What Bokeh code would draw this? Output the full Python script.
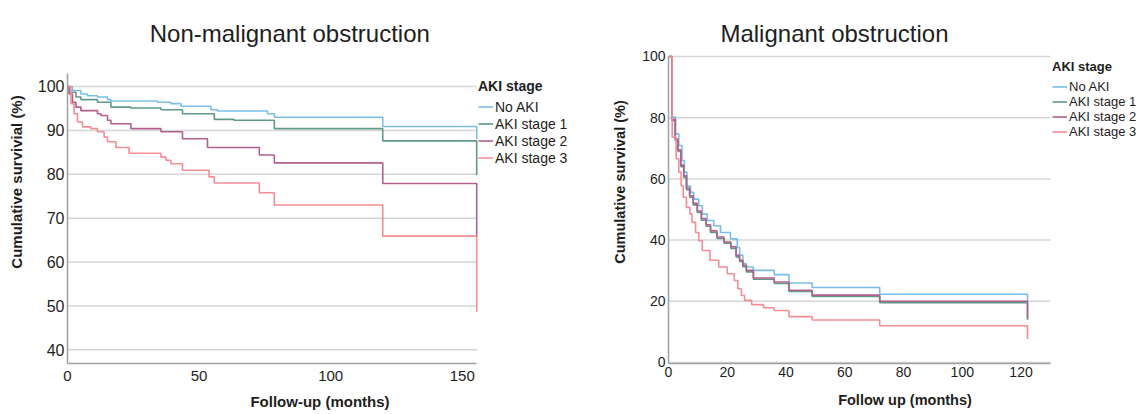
from bokeh.plotting import figure
from bokeh.layouts import row
from bokeh.models import Legend, LegendItem, FixedTicker, Range1d, Label
from bokeh.embed import file_html
from bokeh.resources import INLINE

# ---------------- data ----------------
groups = ["No AKI", "AKI stage 1", "AKI stage 2", "AKI stage 3"]
colors = ["#79bde9", "#5f9a88", "#b2608d", "#f58d95"]

# Non-malignant obstruction (months, cumulative survival %)
nm_t_no = [0, 1.9, 5.1, 7.6, 11.4, 15.2, 16.5, 34.2, 39.3, 43.1, 54.5, 57.0, 76.0, 78.6, 119.8, 155.5]
nm_s_no = [100, 99.1, 98.3, 97.9, 97.6, 97.0, 96.7, 96.4, 96.1, 95.5, 94.7, 94.4, 93.8, 93.0, 90.9, 88.0]
nm_t_s1 = [0, 0.7, 3.2, 5.1, 11.4, 16.5, 24.1, 35.5, 43.7, 55.8, 63.3, 78.6, 119.8, 155.5]
nm_s_s1 = [100, 98.7, 97.6, 97.0, 96.4, 95.3, 95.1, 94.7, 93.8, 92.5, 92.3, 90.4, 87.6, 79.8]
nm_t_s2 = [0, 0.6, 1.9, 3.2, 5.1, 11.4, 12.7, 15.2, 16.5, 24.1, 35.5, 43.7, 53.2, 72.9, 78.6, 119.8, 155.5]
nm_s_s2 = [100, 98.3, 96.4, 95.3, 94.5, 93.8, 93.4, 92.3, 91.5, 90.4, 89.7, 88.1, 86.1, 84.4, 82.6, 77.9, 65.8]
nm_t_s3 = [0, 1.3, 2.5, 3.8, 5.7, 8.9, 11.4, 13.9, 15.2, 18.4, 23.4, 35.5, 37.4, 39.3, 43.7, 53.8, 55.8, 72.9, 78.6, 119.8, 155.5]
nm_s_s3 = [100, 96.1, 93.8, 91.9, 90.8, 90.4, 89.7, 88.5, 87.4, 86.1, 84.8, 83.9, 83.2, 82.4, 80.9, 79.4, 78.0, 75.8, 73.0, 65.9, 48.7]

# Malignant obstruction
m_t_no = [0, 1.25, 2.4, 3.5, 4.6, 5.4, 6.3, 7.5, 8.6, 10.3, 11.5, 13.2, 15.4, 17.7, 21.1, 23.4, 24.2, 25.3, 26.5, 28.9, 36.0, 41.0, 48.9, 71.9, 122.2]
m_s_no = [100, 80.2, 74.7, 70.9, 66.0, 62.2, 57.7, 55.6, 53.4, 51.2, 48.5, 46.4, 44.7, 42.5, 40.4, 37.6, 35.1, 32.3, 31.2, 30.1, 28.7, 26.0, 24.5, 22.3, 19.8]
m_t_s12 = [0, 1.2, 2.3, 3.2, 4.2, 5.2, 6.1, 7.2, 8.4, 9.8, 11.2, 12.8, 14.3, 16.5, 18.9, 21.2, 23.0, 24.2, 25.3, 26.5, 28.9, 36.0, 41.0, 48.9, 71.9, 122.2]
m_s_s1 = [100, 79.0, 72.5, 69.0, 64.0, 60.5, 56.5, 54.0, 51.5, 49.0, 46.5, 44.5, 42.5, 40.5, 39.0, 37.3, 34.5, 33.0, 31.3, 29.6, 27.2, 25.8, 23.2, 21.6, 19.5, 14.0]
m_s_s2 = [100, 79.5, 73.0, 69.5, 64.5, 61.0, 57.0, 54.5, 52.0, 49.5, 47.0, 45.0, 43.0, 41.0, 39.4, 37.8, 35.0, 33.4, 31.8, 30.1, 27.6, 26.3, 23.6, 22.0, 20.0, 14.3]
m_t_s3 = [0, 1.25, 2.6, 3.5, 4.3, 5.0, 6.1, 7.3, 8.0, 9.2, 10.3, 11.5, 14.1, 17.1, 20.0, 22.4, 23.6, 24.8, 25.9, 28.3, 32.4, 36.0, 41.0, 48.9, 71.9, 122.2]
m_s_s3 = [100, 73.6, 66.6, 62.2, 57.7, 54.0, 50.7, 48.5, 45.8, 42.5, 39.8, 36.6, 33.4, 31.2, 29.0, 26.8, 24.1, 21.9, 20.3, 18.9, 17.9, 17.0, 15.0, 13.9, 12.0, 7.7]

nm_x_ticks = [0, 50, 100, 150]
nm_y_ticks = [40, 50, 60, 70, 80, 90, 100]
m_x_ticks = [0, 20, 40, 60, 80, 100, 120]
m_y_ticks = [0, 20, 40, 60, 80, 100]

FONT = "Liberation Sans"
TXT = "#1e1e1e"


def make_plot(title, title_pos, series, w, bl, xr, yr, x_axis_end, y_axis_bounds,
              xticks, yticks, xlabel, ylabel, xtick_fs, ytick_fs, lab_fs,
              xtick_standoff, xlab_standoff, ylab_standoff,
              leg_fs, leg_h, leg_title_standoff, leg_loc):
    # frame spans from the top of the figure down to the x axis (y = 363 px)
    p = figure(width=w, height=414, x_range=Range1d(*xr), y_range=Range1d(*yr),
               title=None, output_backend="svg", toolbar_location=None,
               min_border_left=bl, min_border_right=0, min_border_top=0, min_border_bottom=51)
    p.outline_line_color = None
    p.background_fill_color = "white"
    p.border_fill_color = "white"

    p.add_layout(Label(x=title_pos[0], y=title_pos[1], x_units="screen", y_units="screen",
                       text=title, text_align="center", text_baseline="alphabetic",
                       text_font=FONT, text_font_size="24px", text_color=TXT))

    # horizontal grid lines, limited to the axis extent
    p.xgrid.visible = False
    p.ygrid.visible = False
    p.segment(x0=[0] * len(yticks), x1=[x_axis_end] * len(yticks), y0=yticks, y1=yticks,
              line_color="#d6d6d6", line_width=1.5)

    for ax, ticks, lab, fs in ((p.xaxis, xticks, xlabel, xtick_fs), (p.yaxis, yticks, ylabel, ytick_fs)):
        ax.ticker = FixedTicker(ticks=ticks)
        ax.axis_line_color = "#a0a0a0"
        ax.axis_line_width = 1.5
        ax.major_tick_line_color = None
        ax.minor_tick_line_color = None
        ax.major_tick_out = 0
        ax.major_tick_in = 0
        ax.minor_tick_out = 0
        ax.major_label_text_font = FONT
        ax.major_label_text_font_size = fs
        ax.major_label_text_color = TXT
        ax.axis_label = lab
        ax.axis_label_text_font = FONT
        ax.axis_label_text_font_size = lab_fs
        ax.axis_label_text_font_style = "bold"
        ax.axis_label_text_color = TXT
    p.xaxis.bounds = (0, x_axis_end)
    p.yaxis.bounds = y_axis_bounds
    p.xaxis.major_label_standoff = xtick_standoff
    p.xaxis.axis_label_standoff = xlab_standoff
    p.yaxis.major_label_standoff = 3
    p.yaxis.axis_label_standoff = ylab_standoff

    items = []
    for (t, s), name, c in zip(series, groups, colors):
        r = p.step(t, s, mode="after", line_color=c, line_width=1.6)
        items.append(LegendItem(label=name, renderers=[r]))

    leg = Legend(items=items, title="AKI stage", location=leg_loc)
    leg.title_text_font = FONT
    leg.title_text_font_style = "bold"
    leg.title_text_font_size = leg_fs
    leg.title_text_color = TXT
    leg.title_standoff = leg_title_standoff
    leg.label_text_font = FONT
    leg.label_text_font_size = leg_fs
    leg.label_text_color = TXT
    leg.label_standoff = 2
    leg.glyph_width = 15
    leg.glyph_height = leg_h
    leg.label_height = leg_h
    leg.spacing = 0
    leg.padding = 0
    leg.margin = 0
    leg.border_line_color = None
    leg.background_fill_alpha = 0
    p.add_layout(leg)
    return p


# left panel: frame x 67..572 px, 2.631 px/month; y 4.389 px/unit, 100 at 86 px
p1 = make_plot("Non-malignant obstruction", (222.3, 329.7),
               [(nm_t_no, nm_s_no), (nm_t_s1, nm_s_s1), (nm_t_s2, nm_s_s2), (nm_t_s3, nm_s_s3)],
               572, 67, (0, 191.9), (36.89, 119.59), 155.6, (36.89, 103.0),
               nm_x_ticks, nm_y_ticks, "Follow-up (months)", "Cumulative survivial (%)",
               "15px", "16px", "15px", 7, 9, 10,
               "14px", 17, 4, (411, 197))

# right panel: frame x 96..569 px, 2.938 px/month; y 3.06 px/unit, 100 at 56 px
p2 = make_plot("Malignant obstruction", (166, 329.7),
               [(m_t_no, m_s_no), (m_t_s12, m_s_s1), (m_t_s12, m_s_s2), (m_t_s3, m_s_s3)],
               569, 96, (0, 161.0), (-0.33, 118.3), 130, (-0.33, 100),
               m_x_ticks, m_y_ticks, "Follow up (months)", "Cumulative survival (%)",
               "14px", "14px", "14.5px", 3, 12, 11,
               "13px", 15, 5, (384, 224))

layout = row(p1, p2, spacing=0)
open("out.html", "w").write(file_html(layout, INLINE))
